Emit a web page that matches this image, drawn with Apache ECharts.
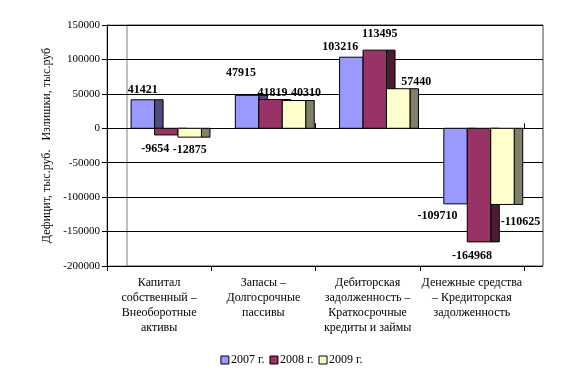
<!DOCTYPE html>
<html>
<head>
<meta charset="utf-8">
<script src="https://cdn.jsdelivr.net/npm/echarts@6/dist/echarts.min.js"></script>
<style>
  html, body { margin: 0; padding: 0; background: #fff; }
  #chart { width: 583px; height: 377px; }
</style>
</head>
<body>
<div id="chart"></div>
<script>
// категории
var categories = [
  'Капитал\nсобственный –\nВнеоборотные\nактивы',
  'Запасы –\nДолгосрочные\nпассивы',
  'Дебиторская\nзадолженность –\nКраткосрочные\nкредиты и займы',
  'Денежные средства\n– Кредиторская\nзадолженность'
];
var years = ['2007 г.', '2008 г.', '2009 г.'];
var v2007 = [41421, 47915, 103216, -109710];
var v2008 = [-9654, 41819, 113495, -164968];
var v2009 = [-12875, 40310, 57440, -110625];

var frontColors = ['#9999ff', '#993366', '#ffffcc'];
var sideColors = ['#4d4d80', '#4d1a33', '#808066'];
var serif = '"Liberation Serif", "Times New Roman", serif';

// сдвиг подписей (как расставил Excel, чтобы не налезали)
var labelDx = [[0, -6, -11, -18], [-11, 2, 5, -7], [0, 12, 18, 18]];
var labelGap = [[4, 16, 4, 6], [8, 1, 10, 8], [7, 2, 1, 11]];

function makeRender(k) {
  return function (params, api) {
    var idx = api.value(0);
    var val = api.value(1);
    var bw = api.size([1, 0])[0];
    var c = api.coord([idx, 0]);
    var t = api.coord([idx, val]);
    var fw = bw * 0.225, sw = bw * 0.082;
    var x0 = c[0] - bw * 0.269 + k * fw;
    var yTop = Math.min(c[1], t[1]);
    var h = Math.abs(t[1] - c[1]);
    var pos = val >= 0;
    var g = labelGap[k][idx];
    return {
      type: 'group',
      children: [
        {type: 'rect', shape: {x: x0 + fw, y: yTop, width: sw, height: h},
         style: {fill: sideColors[k], stroke: '#000', lineWidth: 1}},
        {type: 'rect', shape: {x: x0, y: yTop, width: fw, height: h},
         style: {fill: frontColors[k], stroke: '#000', lineWidth: 1}},
        {type: 'text', x: x0 + fw / 2 + labelDx[k][idx], y: pos ? t[1] - g : t[1] + g,
         style: {text: String(val), fill: '#000', font: 'bold 12px ' + serif,
                 align: 'center', verticalAlign: pos ? 'bottom' : 'top'}}
      ]
    };
  };
}

var series = [v2007, v2008, v2009].map(function (arr, k) {
  return {
    name: years[k],
    type: 'custom',
    xAxisIndex: 1,
    yAxisIndex: 1,
    renderItem: makeRender(k),
    itemStyle: {color: frontColors[k], borderColor: '#000', borderWidth: 1},
    encode: {x: 0, y: 1},
    z: 5 + k,
    data: arr.map(function (v, i) { return [i, v]; })
  };
});

var chart = echarts.init(document.getElementById('chart'));
chart.setOption({
  animation: false,
  textStyle: {fontFamily: serif},
  grid: [
    {left: 107, right: 40, top: 25, bottom: 111, show: true, borderColor: '#808080', borderWidth: 1},
    {left: 107, right: 59, top: 25, bottom: 111},
    {left: 127, right: 40, top: 25, bottom: 111, show: true, borderColor: '#808080', borderWidth: 1}
  ],
  legend: {
    data: years,
    bottom: 6,
    left: 'center',
    icon: 'rect',
    itemWidth: 8,
    itemHeight: 8,
    itemGap: 5,
    itemStyle: {borderColor: '#000', borderWidth: 1},
    textStyle: {fontFamily: serif, fontSize: 12, color: '#000', padding: [0, 0, 0, -3]}
  },
  xAxis: [
    {type: 'value', gridIndex: 0, show: false, min: 0, max: 1},
    {type: 'category', gridIndex: 1, data: categories,
     axisLine: {onZero: false, lineStyle: {color: '#000'}},
     axisTick: {show: true, length: 5, lineStyle: {color: '#000'}},
     axisLabel: {interval: 0, color: '#000', fontFamily: serif, fontSize: 12, lineHeight: 15, margin: 9}},
    {type: 'category', gridIndex: 1, data: categories,
     axisLine: {onZero: true, lineStyle: {color: '#000'}},
     axisTick: {show: true, length: 5, lineStyle: {color: '#000'}},
     axisLabel: {show: false}},
    {type: 'value', gridIndex: 2, show: false, min: 0, max: 1}
  ],
  yAxis: [
    {type: 'value', gridIndex: 0, min: -200000, max: 150000, interval: 50000,
     name: 'Дефицит, тыс.руб.   Излишки, тыс.руб', nameLocation: 'middle', nameGap: 49,
     nameTextStyle: {fontFamily: serif, fontSize: 12, color: '#000'},
     axisLine: {show: true, lineStyle: {color: '#000'}},
     axisTick: {show: true, length: 5, lineStyle: {color: '#000'}},
     axisLabel: {color: '#000', fontFamily: serif, fontSize: 11, margin: 7,
                 formatter: function (v) { return String(v); }},
     splitLine: {show: true, lineStyle: {color: '#000'}}},
    {type: 'value', gridIndex: 1, min: -200000, max: 150000, interval: 50000, show: false},
    {type: 'value', gridIndex: 2, min: -200000, max: 150000, show: false}
  ],
  series: series
});
</script>
</body>
</html>
